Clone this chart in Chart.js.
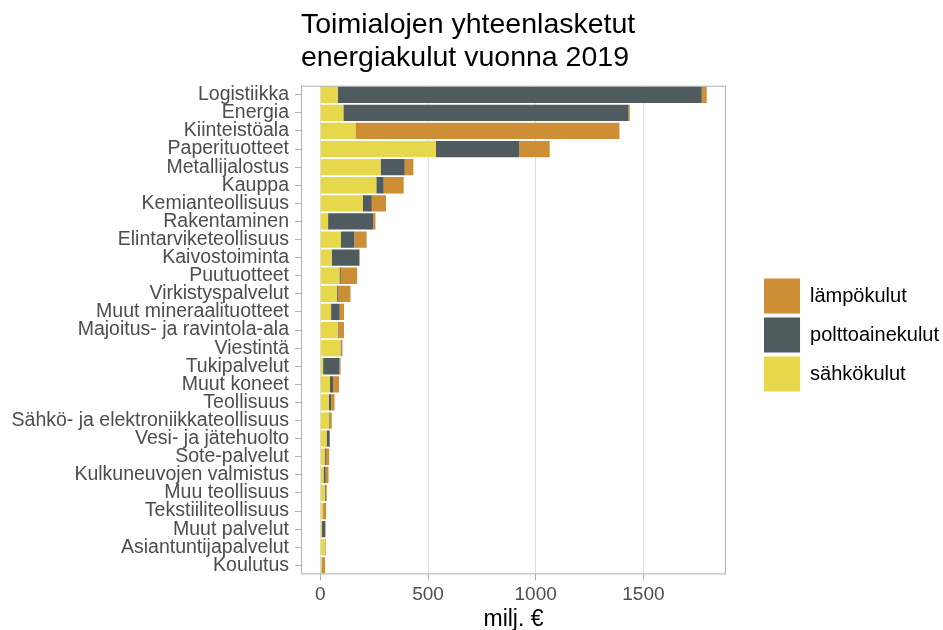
<!DOCTYPE html>
<html>
<head>
<meta charset="utf-8">
<script src="https://cdn.jsdelivr.net/npm/chart.js@4.4.0/dist/chart.umd.min.js"></script>
<style>
  html, body { margin: 0; padding: 0; background: #fff; }
  canvas { display: block; }
</style>
</head>
<body>
<canvas id="chart" width="943" height="630"></canvas>
<script>
// toimialat, suurimmasta pienimpään
const categories = [
  'Logistiikka', 'Energia', 'Kiinteistöala', 'Paperituotteet', 'Metallijalostus',
  'Kauppa', 'Kemianteollisuus', 'Rakentaminen', 'Elintarviketeollisuus', 'Kaivostoiminta',
  'Puutuotteet', 'Virkistyspalvelut', 'Muut mineraalituotteet', 'Majoitus- ja ravintola-ala',
  'Viestintä', 'Tukipalvelut', 'Muut koneet', 'Teollisuus',
  'Sähkö- ja elektroniikkateollisuus', 'Vesi- ja jätehuolto', 'Sote-palvelut',
  'Kulkuneuvojen valmistus', 'Muu teollisuus', 'Tekstiiliteollisuus', 'Muut palvelut',
  'Asiantuntijapalvelut', 'Koulutus'
];
// milj. €
const sahkokulut = [81, 107, 163, 537, 280, 260, 198, 36, 96, 53, 89, 78, 50, 81, 94, 13, 45, 39, 39, 29, 22, 15, 21, 12, 7, 21, 6];
const polttoainekulut = [1690, 1324, 0, 387, 112, 34, 41, 209, 62, 128, 6, 6, 40, 3, 4, 76, 14, 11, 3, 14, 5, 10, 4, 1, 15, 1, 1];
const lampokulut = [23, 6, 1226, 141, 40, 93, 66, 11, 57, 2, 76, 56, 20, 26, 5, 5, 28, 16, 11, 2, 14, 13, 5, 14, 3, 3, 15];
const xTicks = [0, 500, 1000, 1500];

Chart.defaults.font.family = '"Liberation Sans", Arial, sans-serif';

// harmaa kehys paneelin ympäri
const panelBorder = {
  id: 'panelBorder',
  afterDraw(chart) {
    const { ctx, chartArea } = chart;
    ctx.save();
    ctx.strokeStyle = '#b3b3b3';
    ctx.lineWidth = 1;
    ctx.strokeRect(chartArea.left + 0.5, chartArea.top + 0.5,
      chartArea.right - chartArea.left - 1, chartArea.bottom - chartArea.top - 1);
    ctx.restore();
  }
};

new Chart(document.getElementById('chart'), {
  type: 'bar',
  data: {
    labels: categories,
    datasets: [
      { label: 'sähkökulut', data: sahkokulut, backgroundColor: '#E6D84A' },
      { label: 'polttoainekulut', data: polttoainekulut, backgroundColor: '#4F5B5E' },
      { label: 'lämpökulut', data: lampokulut, backgroundColor: '#CD8E35' }
    ]
  },
  options: {
    indexAxis: 'y',
    responsive: false,
    animation: false,
    devicePixelRatio: 1,
    datasets: { bar: { barPercentage: 0.9, categoryPercentage: 1.0, borderWidth: 0 } },
    layout: { padding: { left: 0, right: -6, top: 4, bottom: 0 } },
    plugins: {
      title: {
        display: true,
        text: ['Toimialojen yhteenlasketut', 'energiakulut vuonna 2019'],
        align: 'start',
        fullSize: false,
        color: '#000',
        font: { size: 28.5, weight: 'normal', lineHeight: 1.17 },
        padding: { top: 4, bottom: 11 }
      },
      legend: {
        position: 'right',
        reverse: true,
        maxWidth: 300,
        title: { display: true, text: ' ', font: { size: 10 }, padding: { top: 24, bottom: 0 } },
        labels: {
          boxWidth: 36,
          boxHeight: 35,
          padding: 4,
          color: '#000',
          font: { size: 20 }
        }
      },
      tooltip: { enabled: false }
    },
    scales: {
      x: {
        stacked: true,
        min: -89.7,
        max: 1883.7,
        afterBuildTicks: (scale) => { scale.ticks = xTicks.map(v => ({ value: v })); },
        grid: { color: '#dedede', tickColor: '#b3b3b3', tickLength: 6 },
        border: { display: false },
        ticks: { color: '#4d4d4d', font: { size: 19, lineHeight: 1.1 }, padding: 4, callback: (v) => String(v) },
        title: { display: true, text: 'milj. €', color: '#000', font: { size: 23, lineHeight: 0.9 }, padding: { top: 0, bottom: 0 } }
      },
      y: {
        stacked: true,
        afterFit: (scale) => { scale.width = 301; },
        grid: { drawOnChartArea: false, offset: false, tickColor: '#b3b3b3', tickLength: 6 },
        border: { display: false },
        ticks: { autoSkip: false, color: '#4d4d4d', font: { size: 19.5 }, padding: 6 }
      },
      // tyhjä väli paneelin ja selitteen välissä
      gap: {
        axis: 'y',
        type: 'linear',
        position: 'right',
        grid: { display: false },
        ticks: { display: false },
        border: { display: false },
        afterFit: (scale) => { scale.width = 34; }
      }
    }
  },
  plugins: [panelBorder]
});
</script>
</body>
</html>
